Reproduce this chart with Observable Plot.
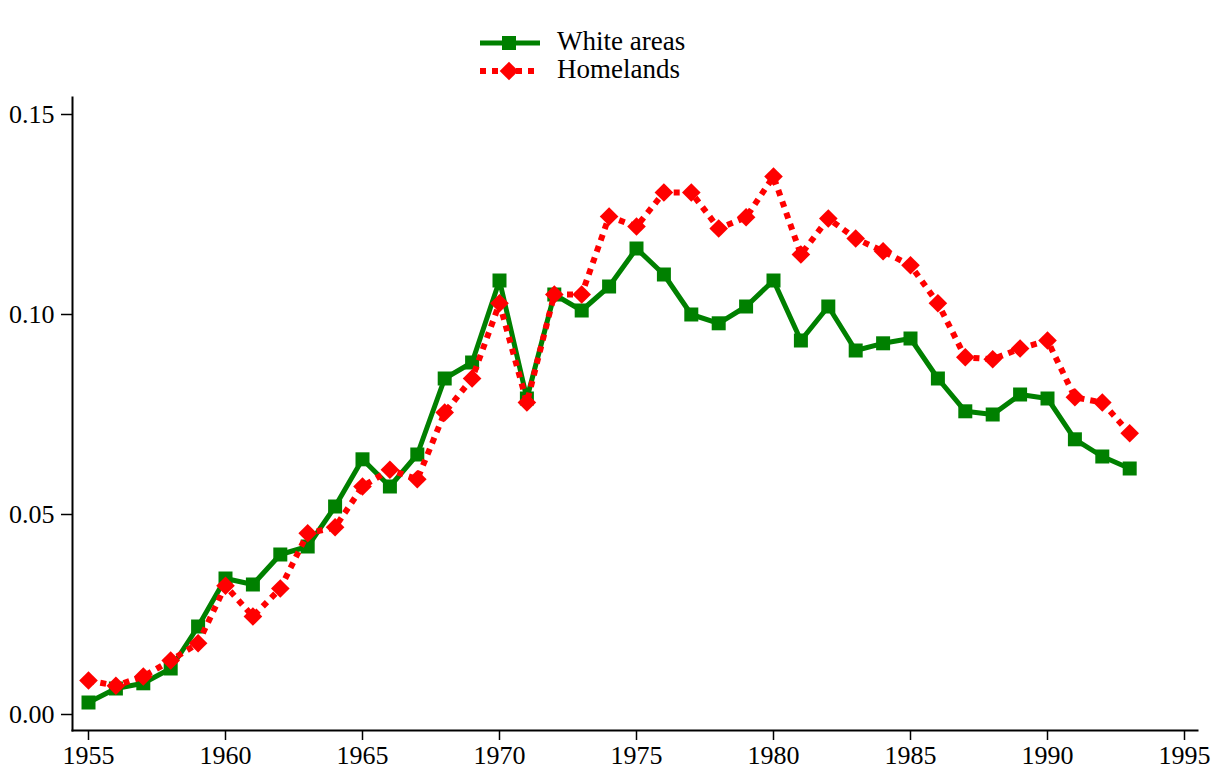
<!DOCTYPE html>
<html><head><meta charset="utf-8">
<script src="https://cdn.jsdelivr.net/npm/d3@7"></script>
<script src="https://cdn.jsdelivr.net/npm/@observablehq/plot@0.6"></script>
<style>body{margin:0;background:#fff;font-family:"Liberation Serif",serif}#legend,#chart{display:block}</style>
</head><body><div id="legend"></div><div id="chart"></div>
<script>
const years = [1955,1956,1957,1958,1959,1960,1961,1962,1963,1964,1965,1966,1967,1968,1969,1970,1971,1972,1973,1974,1975,1976,1977,1978,1979,1980,1981,1982,1983,1984,1985,1986,1987,1988,1989,1990,1991,1992,1993];
const whiteAreas = [0.003,0.0065,0.0078,0.0115,0.022,0.034,0.0325,0.040,0.042,0.052,0.0638,0.057,0.065,0.084,0.088,0.1085,0.079,0.105,0.101,0.107,0.1165,0.110,0.100,0.0978,0.102,0.1085,0.0935,0.102,0.091,0.0928,0.094,0.084,0.0758,0.075,0.080,0.079,0.0688,0.0645,0.0615];
const homelands = [0.0085,0.0072,0.0095,0.0135,0.0178,0.0322,0.0245,0.0315,0.0453,0.0468,0.057,0.0612,0.0588,0.0755,0.084,0.1028,0.078,0.105,0.105,0.1245,0.122,0.1305,0.1305,0.1215,0.1243,0.1345,0.115,0.124,0.119,0.1158,0.1123,0.1028,0.0893,0.0888,0.0915,0.0935,0.0793,0.078,0.0703];
const seriesNames = ["White areas", "Homelands"];
const seriesColors = ["#008000", "#ff0000"];
const xTicks = [1955,1960,1965,1970,1975,1980,1985,1990,1995];
const yTicks = [0, 0.05, 0.10, 0.15];

const whiteData = years.map((yr, i) => ({year: yr, value: whiteAreas[i], series: seriesNames[0]}));
const homeData = years.map((yr, i) => ({year: yr, value: homelands[i], series: seriesNames[1]}));

// Legend (SVG above the chart)
const legend = d3.select("#legend").append("svg").attr("width", 1213).attr("height", 90).style("display","block");
const rows = [
  {name: seriesNames[0], color: seriesColors[0], dash: null, width: 5, sym: d3.symbolSquare, size: 196, y: 43},
  {name: seriesNames[1], color: seriesColors[1], dash: "6,6", width: 6, sym: d3.symbolDiamond2, size: 222, y: 71}
];
for (const r of rows) {
  const g = legend.append("g");
  g.append("line").attr("x1", 480).attr("x2", 540).attr("y1", r.y).attr("y2", r.y)
    .attr("stroke", r.color).attr("stroke-width", r.width).attr("stroke-dasharray", r.dash).attr("stroke-linecap", "butt");
  g.append("path").attr("d", d3.symbol(r.sym, r.size)()).attr("transform", `translate(509,${r.y})`).attr("fill", r.color);
  g.append("text").attr("x", 557).attr("y", r.y + 7).attr("font-family", "Liberation Serif, serif")
    .attr("font-size", 27).attr("fill", "black").text(r.name);
}

const plot = Plot.plot({
  width: 1213, height: 684,
  marginLeft: 72, marginRight: 16, marginTop: 7, marginBottom: 44,
  style: {fontFamily: "Liberation Serif, serif", fontSize: "26px", background: "white", color: "black"},
  x: {domain: [1955, 1995], insetLeft: 16, insetRight: 13},
  y: {domain: [0, 0.15], insetTop: 17, insetBottom: 16},
  marks: [
    Plot.frame({anchor: "left", strokeWidth: 2}),
    Plot.frame({anchor: "bottom", strokeWidth: 2}),
    Plot.axisX({ticks: xTicks, tickFormat: "d", tickSize: 10, tickPadding: 5, strokeWidth: 1.5, fontSize: 26, label: null}),
    Plot.axisY({ticks: yTicks, tickFormat: ".2f", tickSize: 11, tickPadding: 7, strokeWidth: 1.5, fontSize: 26, label: null}),
    Plot.line(whiteData, {x: "year", y: "value", stroke: seriesColors[0], strokeWidth: 5, strokeLinejoin: "miter", strokeLinecap: "butt"}),
    Plot.dot(whiteData, {x: "year", y: "value", symbol: "square", r: 7.9, fill: seriesColors[0], stroke: "none"}),
    Plot.line(homeData, {x: "year", y: "value", stroke: seriesColors[1], strokeWidth: 6, strokeDasharray: "6,6", strokeLinecap: "butt", strokeLinejoin: "miter"}),
    Plot.dot(homeData, {x: "year", y: "value", symbol: "diamond2", r: 8.4, fill: seriesColors[1], stroke: "none"})
  ]
});
document.getElementById("chart").appendChild(plot);
</script>
</body></html>
